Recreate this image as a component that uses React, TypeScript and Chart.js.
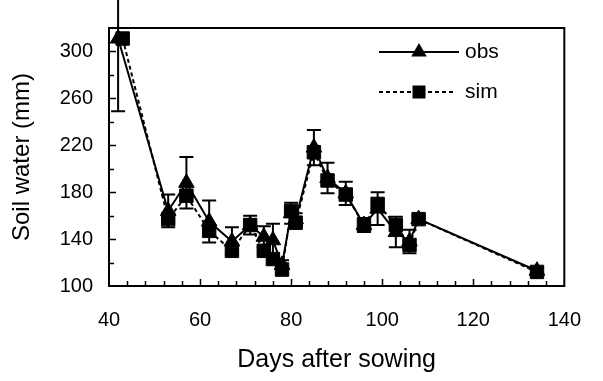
import React, { useEffect, useRef } from "react";
import { Chart, registerables } from "chart.js";

Chart.register(...registerables);

const obsDays = [42, 53, 57, 62, 67, 71, 74, 76, 78, 80, 81, 85, 88, 92, 96, 99, 103, 106, 108, 134];
const obsValues = [311, 164, 188, 155, 138, 152, 142, 139, 118, 162, 157, 218, 192, 179, 152, 166, 146, 138, 157, 113];
const obsErrors = [62, 14, 22, 18, 12, 8, 9, 14, 4, 9, 5, 15, 13, 10, 6, 14, 13, 10, 3, 3];
const simDays = [43, 53, 57, 62, 67, 71, 74, 76, 78, 80, 81, 85, 88, 92, 96, 99, 103, 106, 108, 134];
const simValues = [311, 157, 177, 147, 130, 152, 130, 123, 114, 164, 154, 214, 190, 178, 152, 170, 152, 135, 157, 112];

const xTickValues = [40, 60, 80, 100, 120, 140];
const yTickValues = [100, 140, 180, 220, 260, 300];
const xMinorStep = 4;
const yMinorStep = 20;

const FONT = "'Liberation Sans', Arial, sans-serif";

export default function App() {
  const ref = useRef<HTMLCanvasElement>(null);

  useEffect(() => {
    if (!ref.current) return;

    const errorBars = {
      id: "errorBars",
      afterDatasetsDraw(chart: any) {
        const ctx = chart.ctx;
        const xs = chart.scales.x;
        const ys = chart.scales.y;
        ctx.save();
        ctx.strokeStyle = "#000";
        ctx.lineWidth = 2;
        for (let i = 0; i < obsDays.length; i++) {
          const px = xs.getPixelForValue(obsDays[i]);
          const top = ys.getPixelForValue(obsValues[i] + obsErrors[i]);
          const bot = ys.getPixelForValue(obsValues[i] - obsErrors[i]);
          const t = Math.max(top, 0);
          ctx.beginPath();
          ctx.moveTo(px, t);
          ctx.lineTo(px, bot);
          if (top >= 0) {
            ctx.moveTo(px - 7, top);
            ctx.lineTo(px + 7, top);
          }
          ctx.moveTo(px - 7, bot);
          ctx.lineTo(px + 7, bot);
          ctx.stroke();
        }
        ctx.restore();
      },
    };

    const frame = {
      id: "frame",
      afterDraw(chart: any) {
        const ctx = chart.ctx;
        const a = chart.chartArea;
        const xs = chart.scales.x;
        const ys = chart.scales.y;
        ctx.save();
        ctx.strokeStyle = "#000";
        ctx.lineWidth = 2;
        ctx.strokeRect(a.left, a.top, a.right - a.left, a.bottom - a.top);
        ctx.lineWidth = 1.5;
        ctx.beginPath();
        for (let v = 40 + xMinorStep; v < 140; v += xMinorStep) {
          const px = Math.round(xs.getPixelForValue(v)) + 0.5;
          const len = v % 20 === 0 ? 7 : 5;
          ctx.moveTo(px, a.bottom);
          ctx.lineTo(px, a.bottom - len);
        }
        for (let v = 100 + yMinorStep; v < 320; v += yMinorStep) {
          const py = Math.round(ys.getPixelForValue(v)) + 0.5;
          const len = (v - 100) % 40 === 0 ? 7 : 5;
          ctx.moveTo(a.left, py);
          ctx.lineTo(a.left + len, py);
        }
        ctx.stroke();

        // legend
        const lx0 = 379;
        const lx1 = 459;
        const mx = 419;
        const y1 = 52;
        const y2 = 92;
        ctx.lineWidth = 2;
        ctx.setLineDash([]);
        ctx.beginPath();
        ctx.moveTo(lx0, y1);
        ctx.lineTo(lx1, y1);
        ctx.stroke();
        const r = 9;
        ctx.fillStyle = "#000";
        ctx.beginPath();
        ctx.moveTo(mx, y1 - r);
        ctx.lineTo(mx + r * 0.866, y1 + r * 0.5);
        ctx.lineTo(mx - r * 0.866, y1 + r * 0.5);
        ctx.closePath();
        ctx.fill();
        ctx.setLineDash([4, 3]);
        ctx.beginPath();
        ctx.moveTo(lx0, y2);
        ctx.lineTo(lx1 - 3, y2);
        ctx.stroke();
        ctx.setLineDash([]);
        ctx.fillRect(mx - 6.5, y2 - 6.5, 13, 13);
        ctx.font = `21px ${FONT}`;
        ctx.textBaseline = "middle";
        ctx.textAlign = "left";
        ctx.fillText(chart.data.datasets[1].label, 465, y1);
        ctx.fillText(chart.data.datasets[0].label, 465, y2);
        ctx.restore();
      },
    };

    const chart = new Chart(ref.current, {
      type: "scatter",
      data: {
        datasets: [
          {
            label: "sim",
            data: simDays.map((d, i) => ({ x: d, y: simValues[i] })),
            showLine: true,
            borderColor: "#000",
            backgroundColor: "#000",
            borderWidth: 2,
            borderDash: [4, 3],
            pointStyle: "rect",
            pointRadius: 9.5,
            pointBorderWidth: 1,
            pointBorderColor: "#000",
            pointBackgroundColor: "#000",
          },
          {
            label: "obs",
            data: obsDays.map((d, i) => ({ x: d, y: obsValues[i] })),
            showLine: true,
            borderColor: "#000",
            backgroundColor: "#000",
            borderWidth: 2,
            pointStyle: "triangle",
            pointRadius: 9,
            pointBorderWidth: 1,
            pointBorderColor: "#000",
            pointBackgroundColor: "#000",
          },
        ],
      },
      options: {
        responsive: false,
        animation: false,
        events: [],
        layout: { padding: { top: 18, right: 22, left: 0, bottom: 0 } },
        plugins: { legend: { display: false }, tooltip: { enabled: false } },
        scales: {
          x: {
            type: "linear",
            min: 40,
            max: 140,
            afterBuildTicks: (s: any) => {
              s.ticks = xTickValues.map((v) => ({ value: v }));
            },
            afterFit: (s: any) => {
              s.height = 95;
            },
            grid: { display: false, drawTicks: false },
            border: { display: false },
            ticks: {
              font: { family: FONT, size: 20 },
              color: "#000",
              padding: 22,
              maxRotation: 0,
              autoSkip: false,
            },
            title: {
              display: true,
              text: "Days after sowing",
              font: { family: FONT, size: 25 },
              color: "#000",
              padding: { top: 0, bottom: 6 },
            },
          },
          y: {
            type: "linear",
            min: 100,
            max: 320,
            afterBuildTicks: (s: any) => {
              s.ticks = yTickValues.map((v) => ({ value: v }));
            },
            afterFit: (s: any) => {
              s.width = 109;
            },
            grid: { display: false, drawTicks: false },
            border: { display: false },
            ticks: {
              font: { family: FONT, size: 20 },
              color: "#000",
              padding: 16,
              autoSkip: false,
            },
            title: {
              display: true,
              text: "Soil water (mm)",
              font: { family: FONT, size: 24 },
              color: "#000",
              padding: { top: 8, bottom: 0 },
            },
          },
        },
      },
      plugins: [errorBars, frame],
    } as any);

    return () => chart.destroy();
  }, []);

  return (
    <div style={{ position: "fixed", left: 0, top: 0, width: 603, height: 381, background: "#fff" }}>
      <canvas ref={ref} width={603} height={381} style={{ width: 603, height: 381, display: "block" }} />
    </div>
  );
}
